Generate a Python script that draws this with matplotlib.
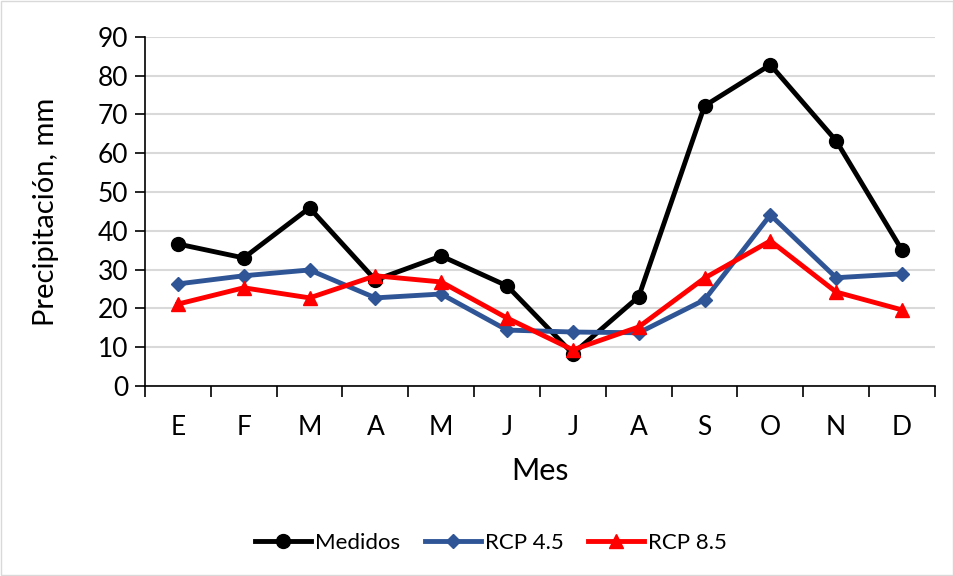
import matplotlib
matplotlib.use("Agg")
import matplotlib.pyplot as plt
from matplotlib.patches import Rectangle

meses = ["E", "F", "M", "A", "M", "J", "J", "A", "S", "O", "N", "D"]
medidos = [36.6, 33.0, 45.9, 27.3, 33.5, 25.8, 8.3, 23.0, 72.2, 82.8, 63.2, 35.0]
rcp45 = [26.3, 28.4, 29.9, 22.7, 23.7, 14.4, 13.9, 13.7, 22.2, 44.1, 27.9, 28.9]
rcp85 = [21.1, 25.3, 22.7, 28.4, 26.8, 17.5, 9.3, 15.2, 27.8, 37.4, 24.2, 19.6]

plt.rcParams["font.family"] = ["Lato", "DejaVu Sans"]

fig = plt.figure(figsize=(9.54, 5.76), dpi=100)
ax = fig.add_axes([0.152, 0.330, 0.828, 0.606])

x = list(range(len(meses)))
ax.plot(x, medidos, color="black", lw=3.5, marker="o", ms=10, label="Medidos")
ax.plot(x, rcp45, color="#2F5597", lw=3.5, marker="D", ms=7.5, label="RCP 4.5")
ax.plot(x, rcp85, color="#FF0000", lw=3.5, marker="^", ms=10, label="RCP 8.5")

ax.set_xlim(-0.5, len(meses) - 0.5)
ax.set_ylim(0, 90)
ax.set_yticks(range(0, 91, 10))
ax.set_xticks(x)
ax.set_xticklabels(meses)
ax.set_xticks([i - 0.5 for i in range(len(meses) + 1)], minor=True)
ax.tick_params(axis="x", which="major", length=0, pad=21, labelsize=19)
ax.tick_params(axis="x", which="minor", length=8, width=1.2, direction="out")
ax.tick_params(axis="y", length=7, width=1.2, labelsize=19, pad=5)

ax.grid(axis="y", color="#D9D9D9", lw=1.5)
ax.set_axisbelow(True)
for s in ["top", "right"]:
    ax.spines[s].set_visible(False)
ax.spines["left"].set_linewidth(1.2)
ax.spines["bottom"].set_linewidth(1.2)

ax.set_xlabel("Mes", fontsize=22, labelpad=12)
ax.set_ylabel("Precipitación, mm", fontsize=21, labelpad=28)

fig.legend(loc="center", bbox_to_anchor=(0.515, 0.057), ncol=3, frameon=False,
           fontsize=16, handlelength=2.5, columnspacing=1.1, handletextpad=0.2)

fig.patches.append(Rectangle((0.001, 0.001), 0.998, 0.998, transform=fig.transFigure,
                             fill=False, edgecolor="#D9D9D9", lw=1))

fig.savefig("out.png", dpi=100)
plt.close(fig)
